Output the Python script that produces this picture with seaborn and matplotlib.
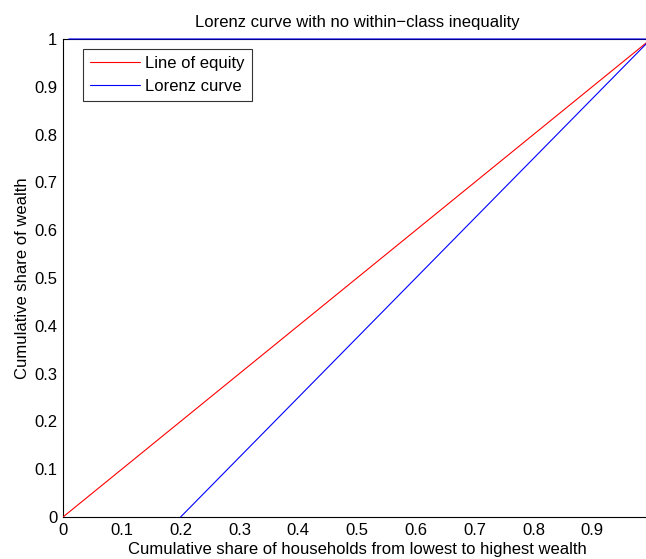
import matplotlib
matplotlib.use("Agg")
import matplotlib.pyplot as plt
import seaborn as sns
import pandas as pd

# Population shares (x) and cumulative wealth shares (y)
equity_x = [0.0, 1.0]
equity_y = [0.0, 1.0]
lorenz_x = [0.2, 1.0, 0.01]
lorenz_y = [0.0, 1.0, 1.0]
ticks = [0, 0.1, 0.2, 0.3, 0.4, 0.5, 0.6, 0.7, 0.8, 0.9, 1]
tick_labels = ["0", "0.1", "0.2", "0.3", "0.4", "0.5", "0.6", "0.7", "0.8", "0.9", "1"]

sns.set_style("white")
plt.rcParams["font.family"] = ["Liberation Sans", "DejaVu Sans"]
plt.rcParams["text.color"] = "black"
plt.rcParams["axes.labelcolor"] = "black"
FS = 12

W, H = 646, 559
fig = plt.figure(figsize=(W / 100, H / 100), dpi=100)
ax = fig.add_axes([63 / W, 1 - 517 / H, 588 / W, 478 / H])

eq = pd.DataFrame({"x": equity_x, "y": equity_y})
lz = pd.DataFrame({"x": lorenz_x, "y": lorenz_y})
sns.lineplot(data=eq, x="x", y="y", ax=ax, color="#ff0000", lw=0.8,
             sort=False, label="Line of equity", zorder=3)
sns.lineplot(data=lz, x="x", y="y", ax=ax, color="#0000ff", lw=0.8,
             sort=False, label="Lorenz curve", zorder=3, clip_on=False)

ax.set_xlim(0, 1)
ax.set_ylim(0, 1)
ax.set_xticks(ticks[:-1])
ax.set_xticklabels(tick_labels[:-1])
ax.set_yticks(ticks)
ax.set_yticklabels(tick_labels)
ax.tick_params(direction="in", length=5, width=0.8, labelsize=FS,
               colors="black", pad=4)
for s in ax.spines.values():
    s.set_color("black")
    s.set_linewidth(0.8)

ax.set_title("Lorenz curve with no within\u2212class inequality", fontsize=FS,
             pad=9, color="black")
ax.set_xlabel("Cumulative share of households from lowest to highest wealth",
              fontsize=FS, labelpad=3)
ax.set_ylabel("Cumulative share of wealth", fontsize=FS, labelpad=3)

leg = ax.legend(loc="upper left", bbox_to_anchor=(20 / 588, 1 - 10 / 478),
                frameon=True, fancybox=False, fontsize=FS,
                handlelength=3.0, handletextpad=0.3, borderpad=0.42,
                labelspacing=0.46, borderaxespad=0)
leg.get_frame().set_edgecolor("black")
leg.get_frame().set_linewidth(0.8)

fig.savefig("out.png", dpi=100)
